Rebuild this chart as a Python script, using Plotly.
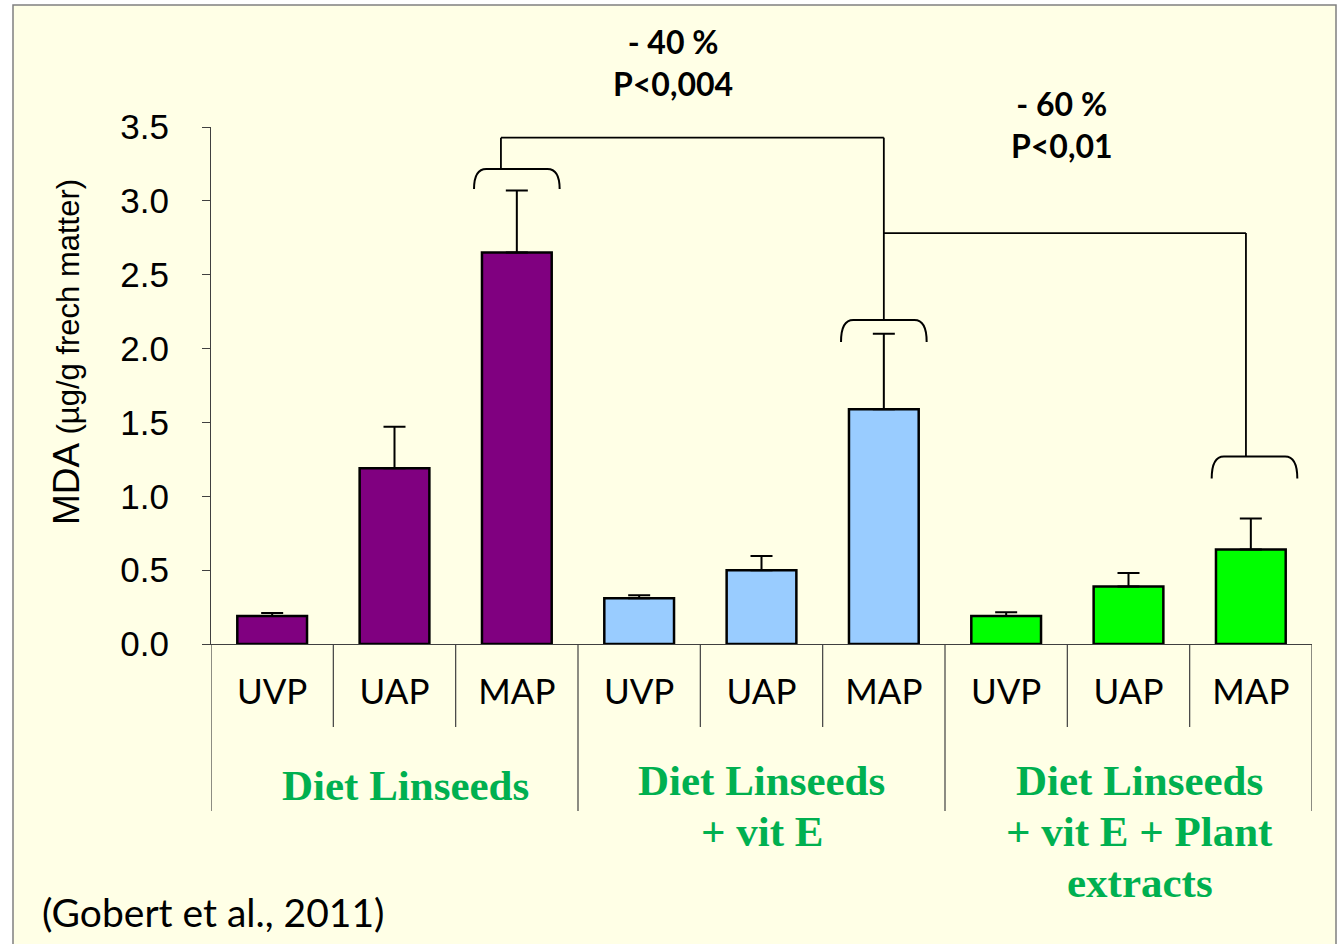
import plotly.graph_objects as go

# ---------------- data ----------------
categories = ["UVP", "UAP", "MAP", "UVP", "UAP", "MAP", "UVP", "UAP", "MAP"]
values = [0.19, 1.19, 2.65, 0.31, 0.50, 1.59, 0.19, 0.39, 0.64]
errors = [0.02, 0.28, 0.42, 0.02, 0.095, 0.51, 0.025, 0.09, 0.21]
group_labels = [["Diet Linseeds"],
                ["Diet Linseeds", "+ vit E"],
                ["Diet Linseeds", "+ vit E + Plant", "extracts"]]
bar_colors = ["#800080"] * 3 + ["#99CCFF"] * 3 + ["#00FF00"] * 3
y_ticks = [0.0, 0.5, 1.0, 1.5, 2.0, 2.5, 3.0, 3.5]
sig_texts = ["- 40 %<br>P&lt;0,004", "- 60 %<br>P&lt;0,01"]
source_text = "(Gobert et al., 2011)"

# ---------------- layout geometry (pixels) ----------------
W, H = 1342, 944
L, R, T, B = 211, 30, 127, 300
PW, PH = W - L - R, H - T - B


def px(xp):
    return (xp - L) / PW


def py(yp):
    return (H - B - yp) / PH


x_idx = list(range(len(categories)))

fig = go.Figure()
fig.add_trace(go.Bar(
    x=x_idx, y=values, width=0.57,
    marker=dict(color=bar_colors, line=dict(color="black", width=2.5)),
    error_y=dict(type="data", symmetric=False, array=errors,
                 arrayminus=[0] * len(errors),
                 color="black", thickness=2, width=11),
    showlegend=False,
))

shapes = []
# slide background with border
shapes.append(dict(type="rect", xref="paper", yref="paper",
                   x0=px(13), x1=px(1336), y0=py(960), y1=py(5),
                   fillcolor="#FFFFE6", line=dict(color="#808080", width=1.5),
                   layer="below"))

# category separators
for i in range(len(categories) + 1):
    xb = i - 0.5
    long_line = (i % 3 == 0)
    shapes.append(dict(type="line", xref="x", yref="paper",
                       x0=xb, x1=xb, y0=0, y1=py(811 if long_line else 727),
                       line=dict(color="#404040", width=1.2)))


# significance brackets over MAP bars
def bracket(xc, ytop, ybot, hw=0.35, c=0.1):
    x0, x1 = xc - hw, xc + hw
    return dict(type="path", xref="x", yref="y",
                path=(f"M {x0},{ybot} Q {x0},{ytop} {x0 + c},{ytop} "
                      f"L {x1 - c},{ytop} Q {x1},{ytop} {x1},{ybot}"),
                line=dict(color="black", width=2))


shapes.append(bracket(2, 3.216, 3.08))
shapes.append(bracket(5, 2.193, 2.045))
shapes.append(bracket(8.03, 1.27, 1.12))


def seg(xa, ya, xb, yb):
    return dict(type="line", xref="x", yref="y", x0=xa, y0=ya, x1=xb, y1=yb,
                line=dict(color="black", width=1.8))


shapes.append(seg(1.87, 3.216, 1.87, 3.428))
shapes.append(seg(1.87, 3.428, 5.0, 3.428))
shapes.append(seg(5.0, 3.428, 5.0, 2.193))
shapes.append(seg(5.0, 2.782, 7.96, 2.782))
shapes.append(seg(7.96, 2.782, 7.96, 1.27))

annotations = []
# y axis title
annotations.append(dict(
    xref="paper", yref="paper", x=px(66), y=py(352), textangle=-90,
    showarrow=False, xanchor="center", yanchor="middle",
    text="MDA <span style='font-size:31px'>(µg/g frech matter)</span>",
    font=dict(family="Liberation Sans, Arial", size=37, color="black")))

# group labels (one annotation per text line)
grp_x = [1.09, 4.0, 7.09]
grp_y0 = [785, 780, 780]
for gx, gy, lines in zip(grp_x, grp_y0, group_labels):
    for k, line in enumerate(lines):
        annotations.append(dict(
            xref="x", yref="paper", x=gx, y=py(gy + 51 * k), text=line,
            showarrow=False, xanchor="center", yanchor="middle",
            font=dict(family="Liberation Serif, Times New Roman", size=43,
                      color="#00B050", weight="bold")))

# significance labels
for (sx, sy), t in zip([(673, 63), (1062, 125)], sig_texts):
    annotations.append(dict(
        xref="paper", yref="paper", x=px(sx), y=py(sy), text=t, showarrow=False,
        xanchor="center", yanchor="middle", align="center",
        font=dict(family="Lato", size=32, color="black", weight="bold")))

# source
annotations.append(dict(
    xref="paper", yref="paper", x=px(40), y=py(912), text=source_text,
    showarrow=False, xanchor="left", yanchor="middle",
    font=dict(family="Lato", size=39, color="black")))

fig.update_layout(
    width=W, height=H, autosize=False,
    margin=dict(l=L, r=R, t=T, b=B, pad=0),
    paper_bgcolor="white", plot_bgcolor="rgba(0,0,0,0)",
    shapes=shapes, annotations=annotations,
    xaxis=dict(range=[-0.5, len(categories) - 0.5], tickvals=x_idx,
               ticktext=categories, ticks="", showline=True,
               linecolor="#404040", linewidth=1.2, showgrid=False,
               zeroline=False, ticklabelstandoff=17,
               tickfont=dict(family="Lato", size=35, color="black")),
    yaxis=dict(range=[0, 3.5], tickvals=y_ticks, tickformat=".1f",
               ticks="outside", ticklen=8, tickcolor="#404040", tickwidth=1.2,
               showline=True, linecolor="#404040", linewidth=1.2,
               showgrid=False, zeroline=False, ticklabelstandoff=26,
               tickfont=dict(family="Liberation Sans, Arial", size=35,
                             color="black")),
    bargap=0.43,
)

fig.write_html("out.html")
